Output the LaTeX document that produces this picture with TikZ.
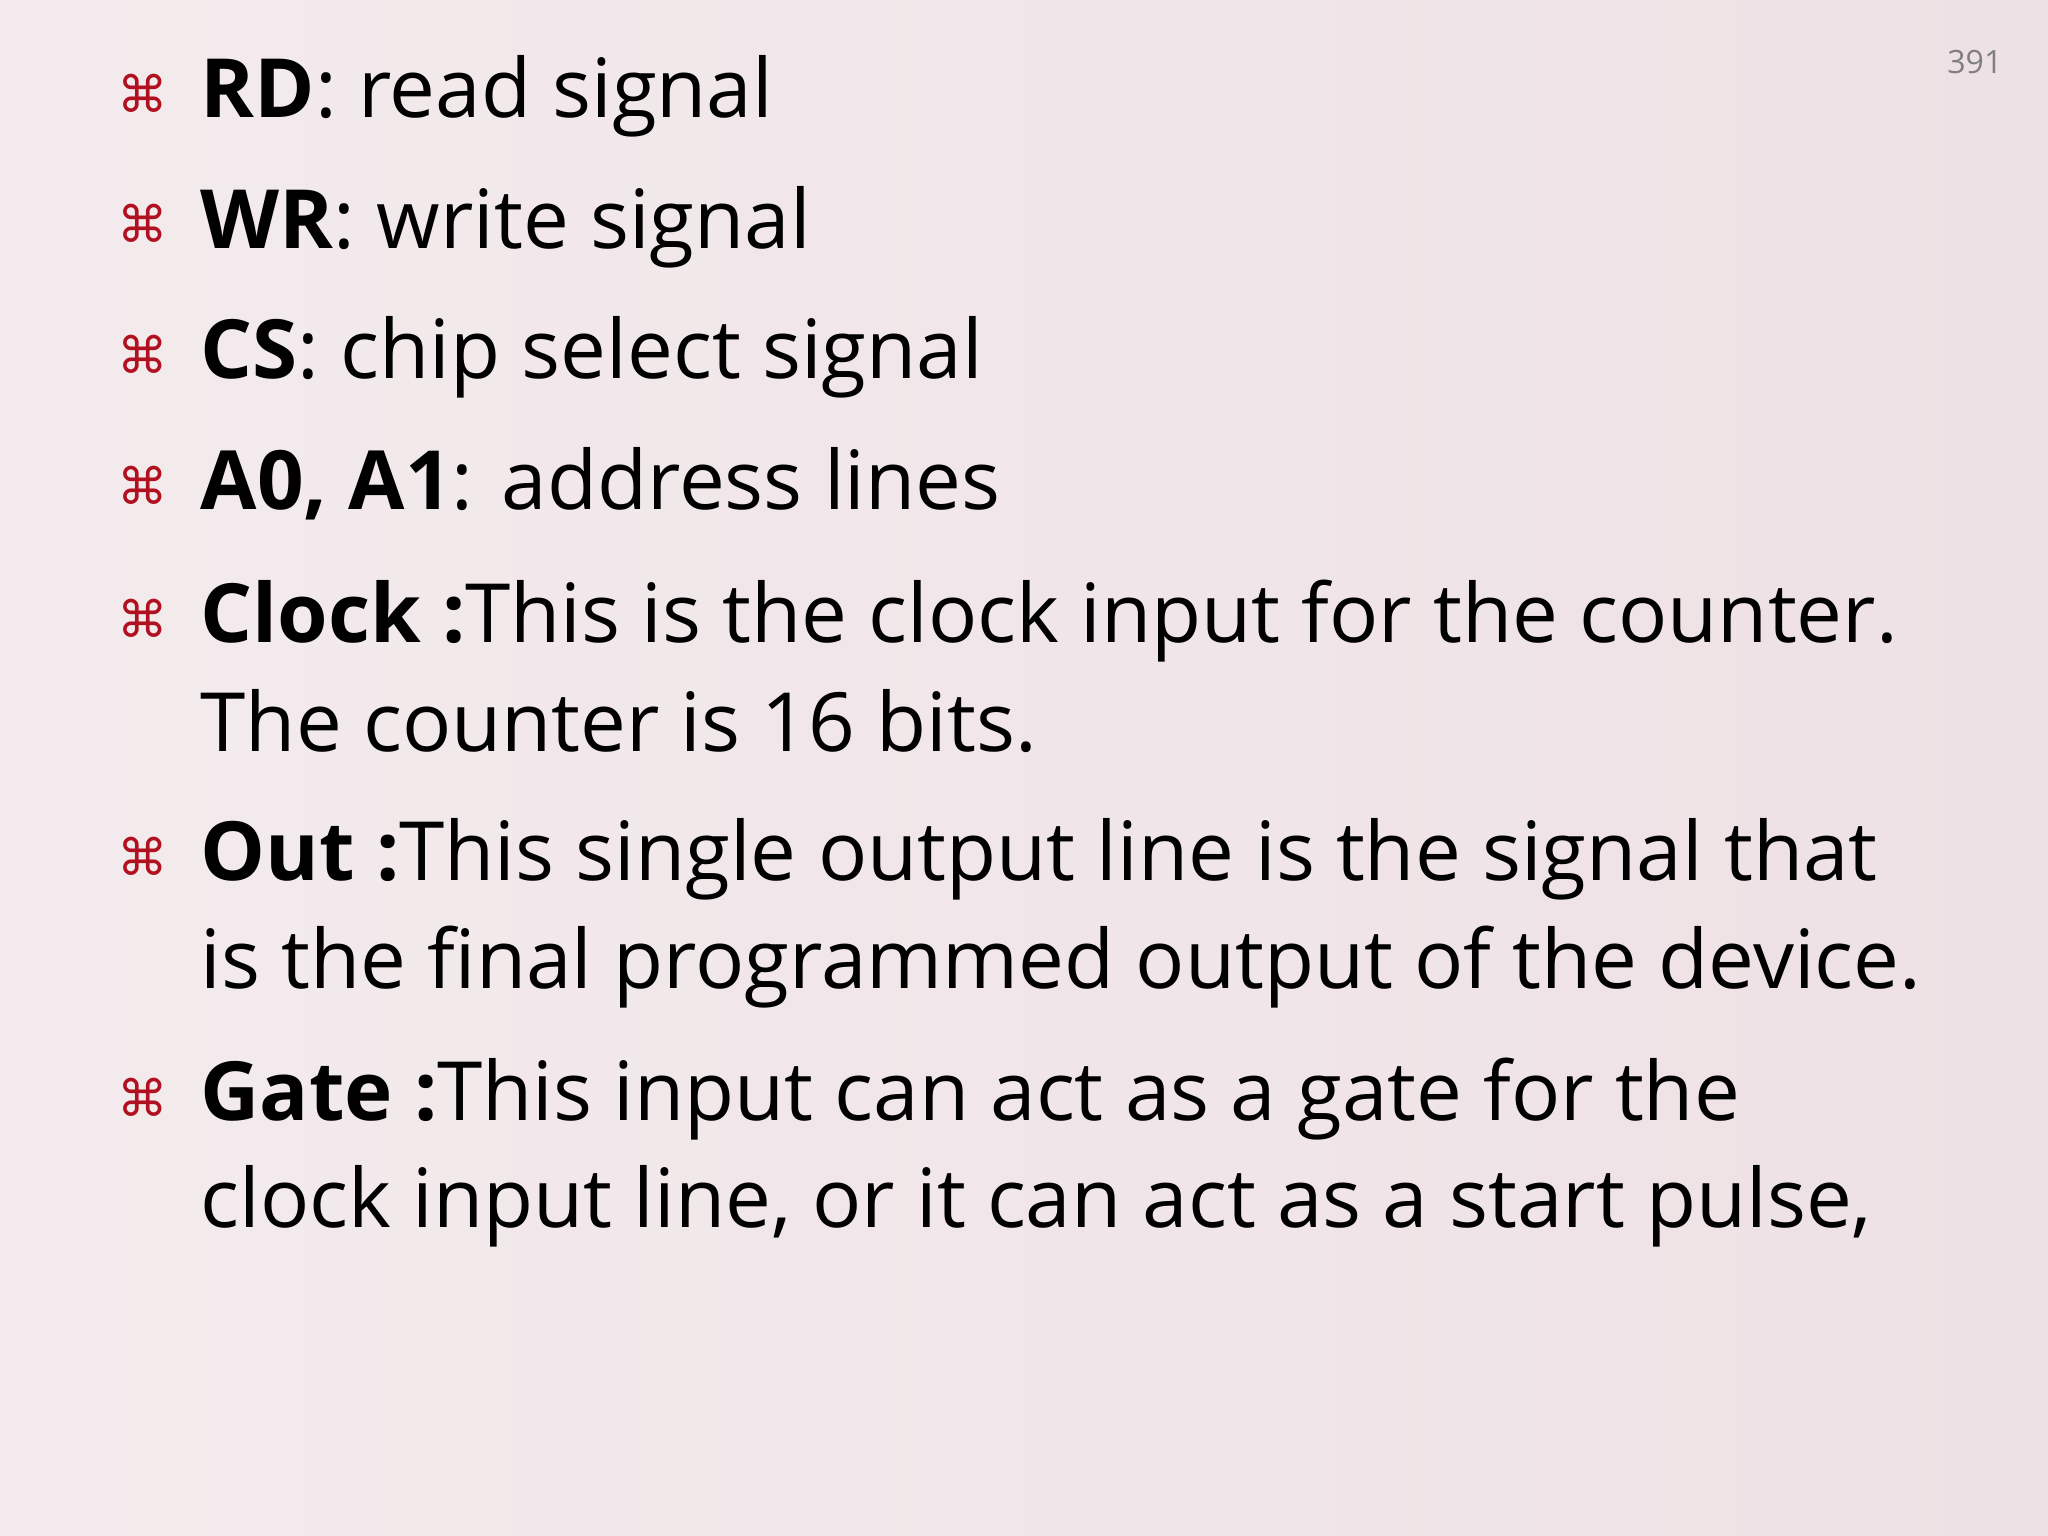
\documentclass[tikz,border=0pt]{standalone}
\usepackage{fontspec}
\setmainfont{Open Sans}
\newfontfamily\symf{DejaVu Sans}
\definecolor{bgl}{HTML}{F3EBED}
\definecolor{bgr}{HTML}{EEE1E5}
\definecolor{bulc}{HTML}{B01020}
\begin{document}
\begin{tikzpicture}[x=1cm,y=-1cm,
  bul/.style={anchor=base,text=bulc,font=\symf\fontsize{11}{11}\selectfont,inner sep=0},
  txt/.style={anchor=base west,inner sep=0,font=\fontsize{17.8}{22}\selectfont}]
\shade[left color=bgl, right color=bgr] (0,0) rectangle (15.68,11.76);
\useasboundingbox (0,0) rectangle (15.68,11.76);
\node[anchor=base,text=gray,font=\fontsize{7}{8}\selectfont] (pg) at (15.12,0.56) {391};
\foreach \n/\y in {1/0.86,2/1.86,3/2.86,4/3.86,5/4.88,6/6.7,7/8.55}
  \node[bul] (b\n) at (1.09,\y) {⌘};
\node[txt] (t1) at (1.53,0.9) {\textbf{RD}: read signal};
\node[txt] (t2) at (1.53,1.9) {\textbf{WR}: write signal};
\node[txt] (t3) at (1.53,2.9) {\textbf{CS}: chip select signal};
\node[txt] (t4) at (1.53,3.9) {\textbf{A0, A1}: address lines};
\node[txt] (t5) at (1.53,4.92) {\textbf{Clock :}This is the clock input for the counter.};
\node[txt] (t5b) at (1.53,5.75) {The counter is 16 bits.};
\node[txt] (t6) at (1.53,6.74) {\textbf{Out :}This single output line is the signal that};
\node[txt] (t6b) at (1.53,7.57) {is the final programmed output of the device.};
\node[txt] (t7) at (1.53,8.58) {\textbf{Gate :}This input can act as a gate for the};
\node[txt] (t7b) at (1.53,9.4) {clock input line, or it can act as a start pulse,};
\end{tikzpicture}
\end{document}
